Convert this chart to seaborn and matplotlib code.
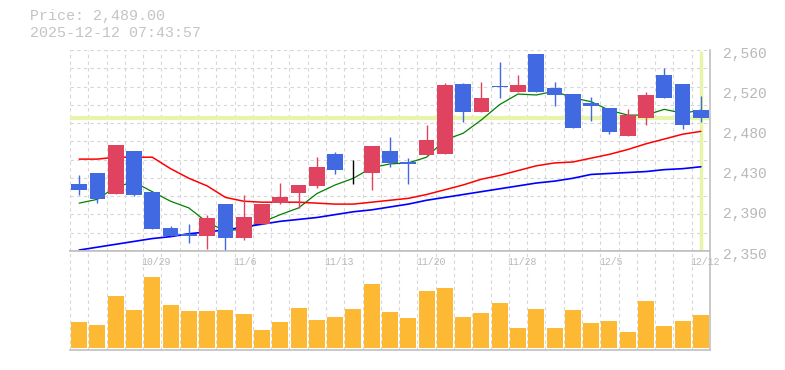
import matplotlib
matplotlib.use("Agg")
import matplotlib.pyplot as plt
import seaborn as sns
from matplotlib.transforms import blended_transform_factory, ScaledTranslation

# daily candles, oldest first
dates = ["10/23", "10/24", "10/27", "10/28", "10/29", "10/30", "10/31", "11/4", "11/5", "11/6",
         "11/7", "11/10", "11/11", "11/12", "11/13", "11/14", "11/17", "11/18", "11/19", "11/20",
         "11/21", "11/25", "11/26", "11/27", "11/28", "12/1", "12/2", "12/3", "12/4", "12/5",
         "12/8", "12/9", "12/10", "12/11", "12/12"]
opens = [2420, 2431, 2410, 2454, 2412, 2374, 2368, 2366, 2399, 2364,
         2378, 2400, 2411, 2418, 2451, 2431, 2431, 2455, 2443, 2450,
         2451, 2524, 2495, 2522, 2516, 2556, 2520, 2514, 2505, 2499,
         2470, 2489, 2534, 2524, 2497]
highs = [2429, 2432, 2461, 2455, 2412, 2376, 2378, 2388, 2399, 2409,
         2399, 2421, 2419, 2448, 2453, 2445, 2460, 2469, 2447, 2482,
         2526, 2526, 2527, 2547, 2534, 2556, 2527, 2514, 2511, 2499,
         2498, 2516, 2541, 2524, 2512]
lows = [2408, 2400, 2410, 2407, 2373, 2366, 2358, 2352, 2350, 2362,
        2378, 2399, 2395, 2416, 2430, 2420, 2414, 2438, 2420, 2450,
        2451, 2485, 2495, 2510, 2516, 2516, 2502, 2478, 2486, 2472,
        2470, 2482, 2510, 2477, 2485]
closes = [2414, 2404, 2461, 2408, 2373, 2366, 2366, 2384, 2364, 2386,
          2399, 2406, 2419, 2438, 2435, 2431, 2460, 2442, 2441, 2466,
          2523, 2495, 2510, 2521, 2523, 2516, 2513, 2478, 2502, 2474,
          2492, 2513, 2510, 2482, 2489]

# moving averages as drawn
ma_short = [2400, 2404, 2417, 2422, 2412, 2402, 2395, 2380, 2371, 2373,
            2380, 2388, 2395, 2410, 2419, 2426, 2437, 2441, 2442, 2448,
            2466, 2473, 2487, 2503, 2514, 2513, 2517, 2510, 2506, 2497,
            2492, 2492, 2498, 2494, 2497]
ma_mid = [2446, 2446, 2448, 2448, 2448, 2436, 2426, 2418, 2406, 2402,
          2401, 2401, 2401, 2400, 2399, 2399, 2401, 2403, 2405, 2409,
          2414, 2419, 2425, 2429, 2434, 2439, 2442, 2443, 2447, 2451,
          2456, 2462, 2467, 2472, 2475]
ma_long = [2351, 2354, 2357, 2360, 2363, 2365, 2368, 2370, 2372, 2375,
           2378, 2381, 2383, 2385, 2388, 2391, 2393, 2396, 2399, 2403,
           2406, 2409, 2412, 2415, 2418, 2421, 2423, 2426, 2430, 2431,
           2432, 2433, 2435, 2436, 2438]

# volume, thousand shares (relative)
volume = [25.7, 22.7, 51.7, 37.7, 70.7, 42.7, 36.7, 36.7, 37.7, 33.7,
          17.7, 25.7, 39.7, 27.7, 30.7, 38.7, 63.7, 35.7, 29.7, 56.7,
          59.7, 30.7, 34.7, 44.7, 19.7, 38.7, 19.7, 37.7, 24.7, 26.7,
          15.7, 46.7, 21.7, 26.7, 32.7]

price_ticks = [2350, 2392, 2434, 2476, 2518, 2560]
price_labels = ["2,350", "2,390", "2,430", "2,480", "2,520", "2,560"]
date_tick_idx = [4, 9, 14, 19, 24, 29, 34]
last_price = 2489.00
stamp = "2025-12-12 07:43:57"

UP = "#e04360"
DOWN = "#4169e1"
VOL = "#fdb933"
GRID = "#d6d6d6"
FRAME = "#c0c0c0"
TXT = "#b8b8b8"
MARK = "#e6f5aa"

sns.set_theme(style="white")
plt.rcParams["font.family"] = ["Liberation Mono", "DejaVu Sans Mono"]

fig = plt.figure(figsize=(7.85, 3.7), dpi=100)
W, H = 785, 370
x0, x1 = 70, 710
ax = fig.add_axes([x0 / W, 1 - 251 / H, (x1 - x0) / W, 201 / H])
axv = fig.add_axes([x0 / W, 1 - 350 / H, (x1 - x0) / W, 99 / H])

n = len(closes)
idx = list(range(n))

# grid
for k in range(1, 12):
    ax.axhline(2350 + k * 210 / 11, color=GRID, lw=0.8, ls=(0, (3, 3)), zorder=0)
for i in range(-1, n - 1):
    ax.axvline(i + 0.5, color=GRID, lw=0.8, ls=(0, (3, 3)), zorder=0)
    axv.axvline(i + 0.5, color=GRID, lw=0.8, ls=(0, (3, 3)), zorder=0)

# current price cross
ax.axhline(last_price, color=MARK, lw=3, zorder=1)
ax.plot([n - 1, n - 1], [2351, 2559], color=MARK, lw=2.5, zorder=1, solid_capstyle="butt")

# moving averages
sns.lineplot(x=idx, y=ma_short, color="#008000", lw=0.9, ax=ax, zorder=2)
sns.lineplot(x=idx, y=ma_mid, color="#ff0000", lw=1.1, ax=ax, zorder=2)
sns.lineplot(x=idx, y=ma_long, color="#0000ff", lw=1.2, ax=ax, zorder=2)

# candles
for i in idx:
    o, h, l, c = opens[i], highs[i], lows[i], closes[i]
    col = UP if c > o else (DOWN if c < o else "black")
    ax.vlines(i, l, h, color=col, lw=1, zorder=3)
    lo = min(o, c)
    body = max(abs(c - o), 1.0)
    ax.bar(i, body, bottom=lo, width=0.86, color=col, linewidth=0, zorder=4)

ax.set_xlim(-0.5, n - 0.5)
ax.set_ylim(2350, 2560)
ax.set_xticks([])
ax.yaxis.tick_right()
ax.set_yticks(price_ticks)
ax.set_yticklabels(price_labels)
ax.tick_params(axis="y", length=0, pad=9, labelsize=10.5, labelcolor=TXT)
shift = ScaledTranslation(0, -2 / 100, fig.dpi_scale_trans)
for lab in ax.get_yticklabels():
    lab.set_transform(lab.get_transform() + shift)
for s in ["top", "left"]:
    ax.spines[s].set_visible(False)
for s in ["bottom", "right"]:
    ax.spines[s].set_color(FRAME)
    ax.spines[s].set_linewidth(1.2)
ax.set_xlabel("")
ax.set_ylabel("")

# volume
sns.barplot(x=idx, y=volume, color=VOL, saturation=1, width=0.87, errorbar=None,
            linewidth=0, ax=axv, zorder=2)
axv.set_xlim(-0.5, n - 0.5)
axv.set_ylim(-2.3, 96.7)
axv.set_xticks([])
axv.set_yticks([])
axv.set_xlabel("")
axv.set_ylabel("")
axv.spines["left"].set_visible(False)
for s in ["top", "bottom", "right"]:
    axv.spines[s].set_color(FRAME)
    axv.spines[s].set_linewidth(1.2)

tr = blended_transform_factory(axv.transData, axv.transAxes)
for i in date_tick_idx:
    axv.text(i - 0.58, 0.885, dates[i], transform=tr, ha="left", va="center",
             fontsize=7.1, color=TXT, zorder=5)

fig.text(30 / W, 1 - 16 / H, f"Price: {last_price:,.2f}", ha="left", va="center",
         fontsize=10.8, color="#c4c4c4")
fig.text(30 / W, 1 - 33 / H, stamp, ha="left", va="center",
         fontsize=10.8, color="#c4c4c4")

fig.savefig("out.png", dpi=100)
